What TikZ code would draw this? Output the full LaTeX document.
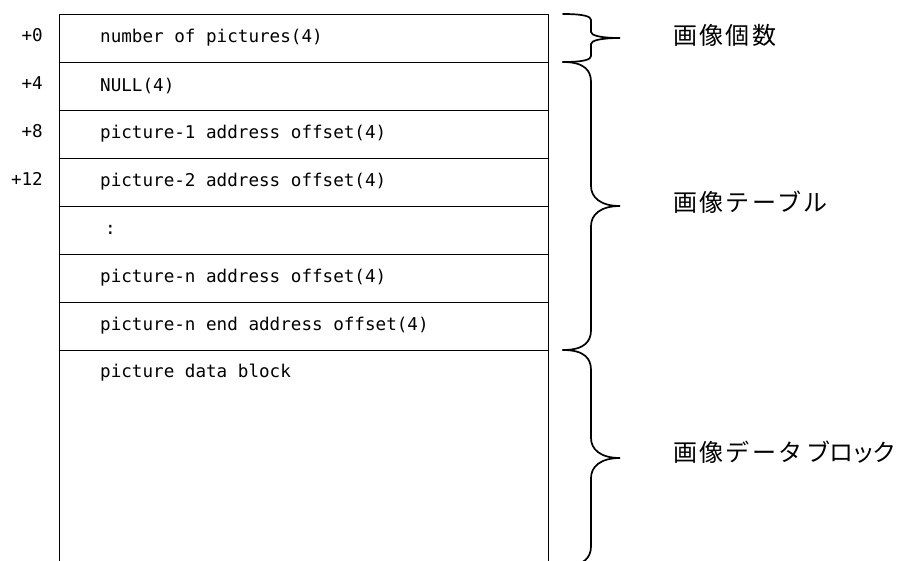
\documentclass[tikz,border=0pt]{standalone}
\usepackage{fontspec}
\setmonofont{DejaVu Sans Mono}
\newfontfamily\cjk[LetterSpace=10]{Noto Sans CJK JP}
\tikzset{
  row/.style={draw, line width=1.4pt, minimum width=489pt, minimum height=48pt, inner sep=0pt, anchor=north west},
  rowtext/.style={font=\fontsize{17.6}{18}\selectfont\ttfamily, anchor=west, inner sep=0pt},
  offs/.style={font=\fontsize{17.6}{18}\selectfont\ttfamily, anchor=east, inner sep=0pt},
  jlabel/.style={font=\fontsize{24}{26}\selectfont\cjk, anchor=west, inner sep=0pt},
  brace/.style={line width=1.7pt, line cap=round}
}
\newcommand\drawbrace[3]{%
  \pgfmathsetmacro\ym{(#1+#2)/2}%
  \draw[brace] (563,#1) .. controls (585,#1) and (591,#1+#3*0.45) .. (591,#1+#3)
    -- (591,\ym-#3) .. controls (591,\ym-#3*0.45) and (600,\ym) .. (620,\ym)
    .. controls (600,\ym) and (591,\ym+#3*0.45) .. (591,\ym+#3)
    -- (591,#2-#3) .. controls (591,#2-#3*0.45) and (585,#2) .. (563,#2);}
\begin{document}
\begin{tikzpicture}[x=1pt,y=-1pt]
\useasboundingbox (0,0) rectangle (909,560);
\clip (0,0) rectangle (909,560);
% rows
\node[row] (r1) at (59,14) {};
\node[row] (r2) at (59,62) {};
\node[row] (r3) at (59,110) {};
\node[row] (r4) at (59,158) {};
\node[row] (r5) at (59,206) {};
\node[row] (r6) at (59,254) {};
\node[row] (r7) at (59,302) {};
\node[row, minimum height=230pt] (r8) at (59,350) {};
% row texts
\node[rowtext] (t1) at (100,38) {number of pictures(4)};
\node[rowtext] (t2) at (100,86) {NULL(4)};
\node[rowtext] (t3) at (100,134) {picture-1 address offset(4)};
\node[rowtext] (t4) at (100,182) {picture-2 address offset(4)};
\node[rowtext] (t5) at (105,230) {:};
\node[rowtext] (t6) at (100,278) {picture-n address offset(4)};
\node[rowtext] (t7) at (100,326) {picture-n end address offset(4)};
\node[rowtext] (t8) at (100,373) {picture data block};
% offsets
\node[offs] (o1) at (43,35) {+0};
\node[offs] (o2) at (43,83) {+4};
\node[offs] (o3) at (43,131) {+8};
\node[offs] (o4) at (43,179) {+12};
% braces
\drawbrace{14}{62}{6}
\drawbrace{62}{350}{20}
\drawbrace{350}{566}{20}
% labels
\node[jlabel] (l1) at (673,35) {画像個数};
\node[jlabel] (l2) at (673,202) {画像テーブル};
\node[jlabel] (l3) at (673,452) {画像データ\hspace{4pt}ブ\hspace{-1pt}ロ\hspace{-2.5pt}ッ\hspace{-2.5pt}ク};
\end{tikzpicture}
\end{document}
